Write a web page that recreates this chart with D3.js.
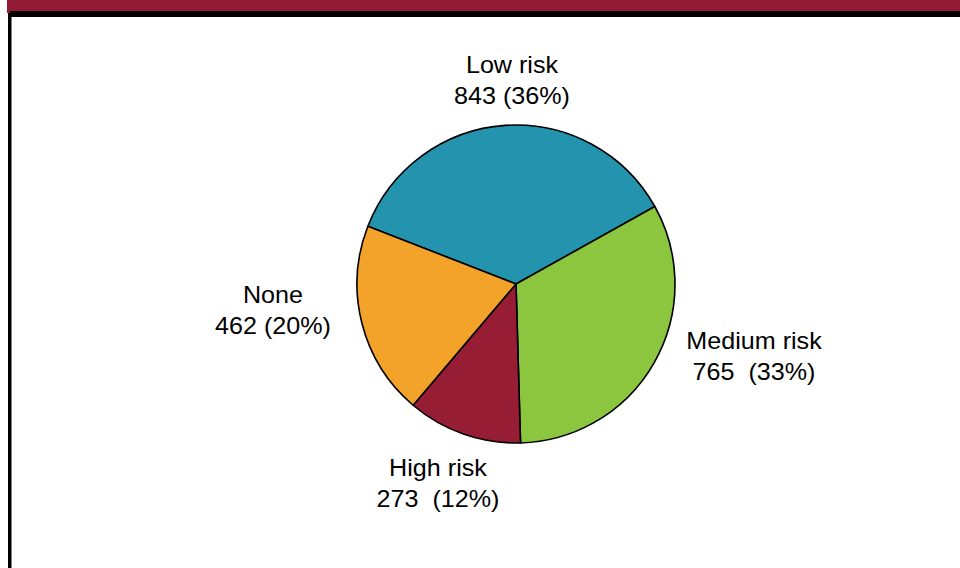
<!DOCTYPE html>
<html>
<head>
<meta charset="utf-8">
<script src="https://cdn.jsdelivr.net/npm/d3@7"></script>
<style>
  body { margin: 0; background: #fff; }
  svg text { font-family: "Liberation Sans", Arial, sans-serif; white-space: pre; }
</style>
</head>
<body>
<div id="chart"></div>
<script>
        var categories = ["Low risk", "Medium risk", "High risk", "None"];
        var counts = [843, 765, 273, 462];
        var percentLabels = ["843 (36%)", "765  (33%)", "273  (12%)", "462 (20%)"];
        var colours = ["#2493ae", "#8cc63f", "#971d35", "#f3a22a"];

        // where each label sits, relative to the pie centre
        var labelOffset = [
            { dx: -4, dy: -211 },
            { dx: 238, dy: 65 },
            { dx: -78, dy: 192 },
            { dx: -243, dy: 19 }
        ];

        var width = 960,
            height = 568,
            cx = 516,
            cy = 284,
            radius = 159;

        var svg = d3.select("#chart").append("svg")
            .attr("width", width)
            .attr("height", height);

        // frame: red banner, black rule, left border
        svg.append("rect").attr("x", 7).attr("y", 0).attr("width", width - 7).attr("height", 11).attr("fill", "#951b34");
        svg.append("rect").attr("x", 7).attr("y", 11).attr("width", 3).attr("height", 2).attr("fill", "#951b34");
        svg.append("rect").attr("x", 10).attr("y", 11).attr("width", width - 10).attr("height", 6).attr("fill", "#000");
        svg.append("rect").attr("x", 8).attr("y", 13).attr("width", 3.5).attr("height", height - 13).attr("fill", "#000");

        var startAngle = -68.7 * Math.PI / 180;

        var pie = d3.pie()
            .sort(null)
            .value(function (d) { return d; })
            .startAngle(startAngle)
            .endAngle(startAngle + 2 * Math.PI);

        var arc = d3.arc()
            .innerRadius(0)
            .outerRadius(radius);

        var g = svg.append("g")
            .attr("transform", "translate(" + cx + "," + cy + ")");

        g.selectAll(".slice")
            .data(pie(counts))
            .enter().append("path")
            .attr("class", "slice")
            .attr("d", arc)
            .attr("fill", function (d, i) { return colours[i]; })
            .attr("stroke", "#000")
            .attr("stroke-width", 1.6)
            .attr("stroke-linejoin", "round");

        // the source text is drawn a little wide, so stretch it slightly
        var labels = g.selectAll(".label")
            .data(categories)
            .enter().append("text")
            .attr("class", "label")
            .attr("text-anchor", "middle")
            .attr("font-size", 23.5)
            .attr("fill", "#000")
            .attr("transform", function (d, i) {
                return "translate(" + labelOffset[i].dx + "," + labelOffset[i].dy + ") scale(1.07,1)";
            });

        labels.append("tspan")
            .attr("x", 0)
            .attr("y", 0)
            .text(function (d) { return d; });

        labels.append("tspan")
            .attr("x", 0)
            .attr("y", 31)
            .text(function (d, i) { return percentLabels[i]; });
</script>
</body>
</html>
